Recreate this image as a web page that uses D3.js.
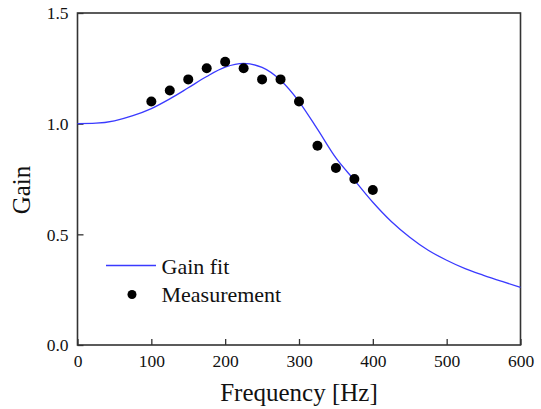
<!DOCTYPE html>
<html><head><meta charset="utf-8">
<script src="https://cdn.jsdelivr.net/npm/d3@7"></script>
<style>body{margin:0;background:#fff}svg{display:block}text{font-family:"Liberation Serif","Times New Roman",serif;}</style>
</head><body>
<script>
const fitFreq = [0,25,50,75,100,125,150,175,200,225,250,275,300,325,350,375,400,425,450,475,500,525,550,575,600];
const fitGain = [1.000,1.002,1.013,1.036,1.068,1.112,1.162,1.213,1.255,1.272,1.254,1.196,1.100,0.975,0.845,0.745,0.645,0.558,0.487,0.428,0.383,0.345,0.315,0.287,0.260];
const measFreq = [100,125,150,175,200,225,250,275,300,325,350,375,400];
const measGain = [1.10,1.15,1.20,1.25,1.28,1.25,1.20,1.20,1.10,0.90,0.80,0.75,0.70];
const xTicks = [0,100,200,300,400,500,600];
const yTicks = [0.0,0.5,1.0,1.5];
const legendLabels = ["Gain fit","Measurement"];

const W=541,H=409;
const m={left:77.5,right:520.5,top:13,bottom:345};
const svg=d3.select("body").append("svg").attr("width",W).attr("height",H);
const x=d3.scaleLinear().domain([0,600]).range([m.left,m.right]);
const y=d3.scaleLinear().domain([0,1.5]).range([m.bottom,m.top]);

const xAxis=svg.append("g").attr("transform",`translate(0,${m.bottom})`)
  .call(d3.axisBottom(x).tickValues(xTicks).tickSizeInner(-6).tickSizeOuter(0).tickPadding(10).tickFormat(d3.format("d")));
const yAxis=svg.append("g").attr("transform",`translate(${m.left},0)`)
  .call(d3.axisLeft(y).tickValues(yTicks).tickSizeInner(-6).tickSizeOuter(0).tickPadding(9).tickFormat(d3.format(".1f")));
[xAxis,yAxis].forEach(g=>{
  g.select(".domain").remove();
  g.selectAll(".tick line").attr("stroke","#333").attr("stroke-width",1.3);
  g.selectAll(".tick text").attr("font-size",17.5).attr("fill","#111").style("font-family","'Liberation Serif',serif");
});
yAxis.selectAll(".tick text").attr("dy","0.33em");

// frame
svg.append("rect").attr("x",m.left).attr("y",m.top).attr("width",m.right-m.left).attr("height",m.bottom-m.top)
  .attr("fill","none").attr("stroke","#333").attr("stroke-width",1.6);

const fit=fitFreq.map((f,i)=>[f,fitGain[i]]);
svg.append("path").datum(fit).attr("fill","none").attr("stroke","#3a3aff").attr("stroke-width",1.3)
  .attr("d",d3.line().x(d=>x(d[0])).y(d=>y(d[1])).curve(d3.curveMonotoneX));

svg.selectAll("circle.m").data(measFreq.map((f,i)=>[f,measGain[i]])).enter().append("circle")
  .attr("class","m").attr("cx",d=>x(d[0])).attr("cy",d=>y(d[1])).attr("r",5).attr("fill","#000");

// legend
svg.append("line").attr("x1",106).attr("x2",156).attr("y1",265.5).attr("y2",265.5).attr("stroke","#3a3aff").attr("stroke-width",1.3);
svg.append("circle").attr("cx",132).attr("cy",294.5).attr("r",4.5).attr("fill","#000");
svg.append("text").attr("x",161.5).attr("y",273.5).attr("font-size",22).attr("fill","#111").text(legendLabels[0]);
svg.append("text").attr("x",161.5).attr("y",301.5).attr("font-size",22).attr("fill","#111").text(legendLabels[1]);

// axis titles
svg.append("text").attr("x",(m.left+m.right)/2).attr("y",401).attr("text-anchor","middle").attr("font-size",25).attr("fill","#111").text("Frequency [Hz]");
svg.append("text").attr("transform",`translate(30,190) rotate(-90)`).attr("text-anchor","middle").attr("font-size",25).attr("fill","#111").text("Gain");
</script>
</body></html>
